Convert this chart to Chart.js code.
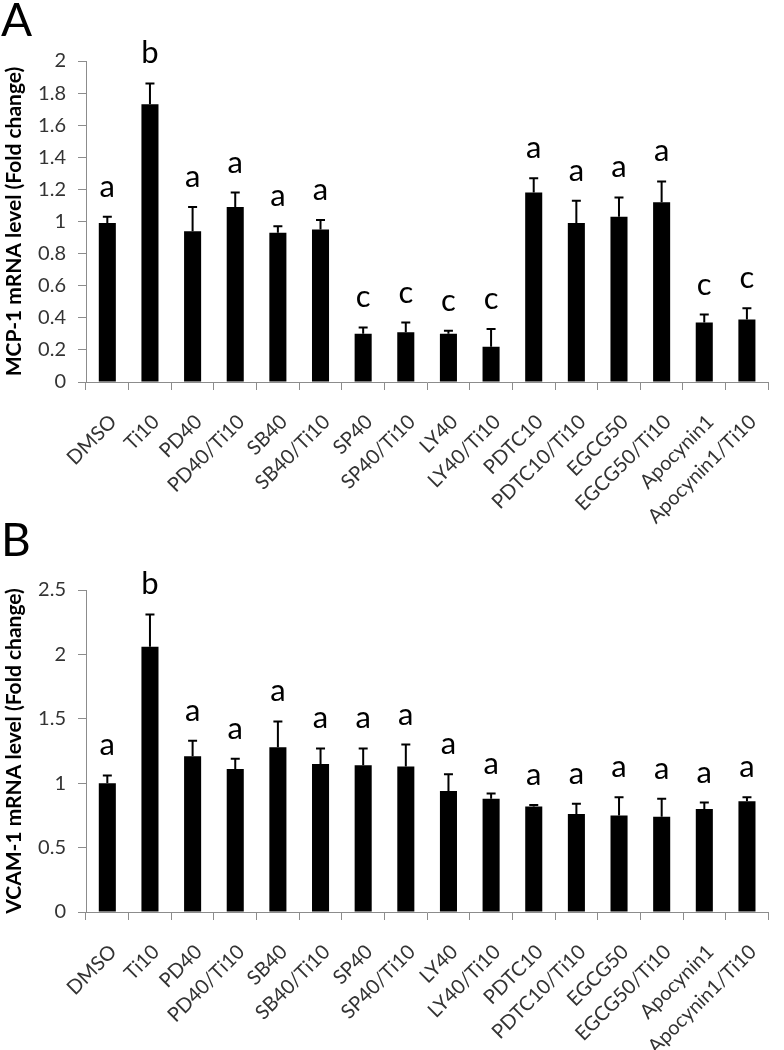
<!DOCTYPE html>
<html><head><meta charset="utf-8">
<script src="https://cdn.jsdelivr.net/npm/chart.js@4/dist/chart.umd.min.js"></script>
<style>
html,body{margin:0;padding:0;background:#fff;}
body{width:784px;height:1050px;position:relative;overflow:hidden;}
.panel{position:absolute;left:0;width:784px;}
#wa{top:0;height:540px;}
#wb{top:540px;height:510px;}
.lbl{position:absolute;font-family:Lato,sans-serif;font-size:46px;line-height:1;color:#000;}
</style></head><body>
<div class="panel" id="wa"><canvas id="ca"></canvas></div>
<div class="panel" id="wb"><canvas id="cb"></canvas></div>
<div class="lbl" style="left:1px;top:-4px">A</div>
<div class="lbl" style="left:1px;top:516px">B</div>
<script>
const categories = ['DMSO','Ti10','PD40','PD40/Ti10','SB40','SB40/Ti10','SP40','SP40/Ti10','LY40','LY40/Ti10','PDTC10','PDTC10/Ti10','EGCG50','EGCG50/Ti10','Apocynin1','Apocynin1/Ti10'];

const mcpMean = [0.99,1.73,0.94,1.09,0.93,0.95,0.30,0.31,0.30,0.22,1.18,0.99,1.03,1.12,0.37,0.39];
const mcpSD   = [0.04,0.13,0.15,0.09,0.04,0.06,0.04,0.06,0.02,0.11,0.09,0.14,0.12,0.13,0.05,0.07];
const mcpSig  = ['a','b','a','a','a','a','c','c','c','c','a','a','a','a','c','c'];
const mcpTicks = [0,0.2,0.4,0.6,0.8,1,1.2,1.4,1.6,1.8,2];
const mcpTickLabels = ['0','0.2','0.4','0.6','0.8','1','1.2','1.4','1.6','1.8','2'];

const vcamMean = [1.00,2.06,1.21,1.11,1.28,1.15,1.14,1.13,0.94,0.88,0.82,0.76,0.75,0.74,0.80,0.86];
const vcamSD   = [0.06,0.25,0.12,0.08,0.20,0.12,0.13,0.17,0.13,0.04,0.01,0.08,0.14,0.14,0.05,0.03];
const vcamSig  = ['a','b','a','a','a','a','a','a','a','a','a','a','a','a','a','a'];
const vcamTicks = [0,0.5,1,1.5,2,2.5];
const vcamTickLabels = ['0','0.5','1','1.5','2','2.5'];

const FONT = 'Lato, "Open Sans", sans-serif';

const errPlugin = {
  id: 'errLetters',
  afterDatasetsDraw(chart, args, opts) {
    const ctx = chart.ctx;
    const y = chart.scales.y;
    const meta = chart.getDatasetMeta(0);
    ctx.save();
    ctx.strokeStyle = '#000';
    ctx.lineWidth = 2;
    ctx.fillStyle = '#000';
    ctx.font = '31px ' + FONT;
    ctx.textAlign = 'center';
    ctx.textBaseline = 'alphabetic';
    meta.data.forEach((bar, i) => {
      const m = opts.means[i], s = opts.sds[i];
      const yb = y.getPixelForValue(m);
      const yt = y.getPixelForValue(m + s);
      ctx.beginPath();
      ctx.moveTo(bar.x, yb);
      ctx.lineTo(bar.x, yt);
      ctx.moveTo(bar.x - 4.5, yt);
      ctx.lineTo(bar.x + 4.5, yt);
      ctx.stroke();
      ctx.fillText(opts.sig[i], bar.x, yt - 20);
    });
    ctx.restore();
  }
};

function makeChart(id, means, sds, sig, ticks, tickLabels, title, padTop, padRight, xHeight) {
  const yMax = ticks[ticks.length - 1];
  return new Chart(document.getElementById(id), {
    type: 'bar',
    data: {
      labels: categories,
      datasets: [{
        data: means,
        backgroundColor: '#000',
        borderWidth: 0,
        categoryPercentage: 1,
        barPercentage: 0.4
      }]
    },
    options: {
      responsive: true,
      maintainAspectRatio: false,
      animation: false,
      layout: { padding: { top: padTop, right: padRight, left: 0, bottom: 0 } },
      plugins: {
        legend: { display: false },
        tooltip: { enabled: false },
        errLetters: { means: means, sds: sds, sig: sig }
      },
      scales: {
        x: {
          offset: true,
          grid: { offset: true, drawOnChartArea: false, drawTicks: true, tickLength: 8, color: '#8c8c8c', lineWidth: 1 },
          border: { color: '#8c8c8c', width: 1 },
          ticks: {
            autoSkip: false, minRotation: 45, maxRotation: 45,
            color: '#333', font: { family: FONT, size: 20 }, padding: 20, labelOffset: 6
          },
          afterFit(s) { s.height = xHeight; }
        },
        y: {
          min: 0, max: yMax,
          afterBuildTicks(s) { s.ticks = ticks.map(v => ({ value: v })); },
          grid: { drawOnChartArea: false, drawTicks: true, tickLength: 8, color: '#8c8c8c', lineWidth: 1 },
          border: { color: '#8c8c8c', width: 1 },
          ticks: {
            color: '#333', font: { family: FONT, size: 20 }, padding: 12,
            callback(v, i) { return tickLabels[i]; }
          },
          title: { display: true, text: title, color: '#000', font: { family: FONT, size: 21, weight: 'bold' }, padding: { top: 2, bottom: 2 } },
          afterFit(s) { s.width = 86; }
        }
      }
    },
    plugins: [errPlugin]
  });
}

makeChart('ca', mcpMean, mcpSD, mcpSig, mcpTicks, mcpTickLabels, 'MCP-1 mRNA level (Fold change)', 61, 4, 158);
makeChart('cb', vcamMean, vcamSD, vcamSig, vcamTicks, vcamTickLabels, 'VCAM-1 mRNA level (Fold change)', 50, 2, 138);
</script>
</body></html>
